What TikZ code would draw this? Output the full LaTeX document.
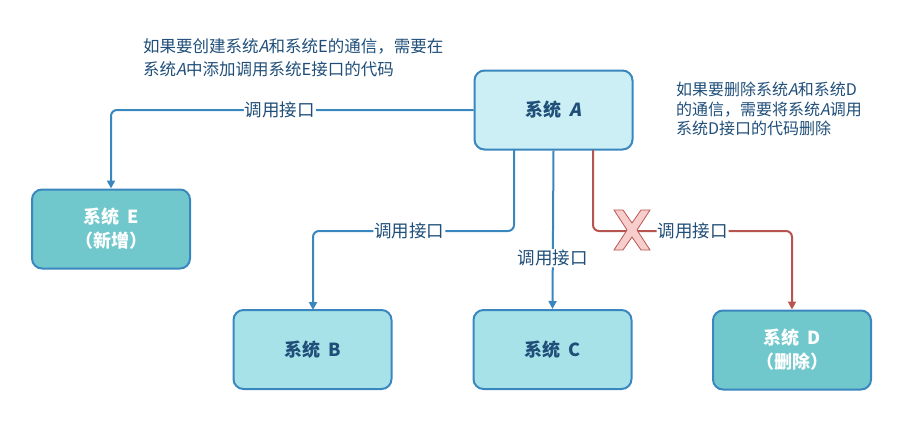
\documentclass[tikz,border=0pt]{standalone}
\usepackage{fontspec}
\setmainfont{Noto Sans CJK SC}
\newfontfamily\slfont{Noto Sans CJK SC}[FakeSlant=0.2]
\usetikzlibrary{arrows.meta}
\definecolor{lineblue}{HTML}{3A86BE}
\definecolor{linered}{HTML}{B85450}
\definecolor{xfill}{HTML}{F8CECC}
\definecolor{txtblue}{HTML}{1F4E79}
\definecolor{fillA}{HTML}{CBEFF4}
\definecolor{fillB}{HTML}{A7E2E9}
\definecolor{fillE}{HTML}{71C8CC}
\newcommand{\sA}{{\slfont A}}
\tikzset{
  sysbox/.style={draw=lineblue, line width=2pt, rounded corners=10pt, minimum width=158pt, minimum height=79pt, align=center, font=\fontsize{18}{24}\selectfont\bfseries, text=txtblue},
  newbox/.style={sysbox, fill=fillE, text=white},
  conn/.style={draw=lineblue, line width=2pt, rounded corners=6pt, -{Triangle[length=8pt,width=8pt]}},
  delconn/.style={conn, draw=linered},
  lbl/.style={fill=white, inner sep=1pt, text=txtblue, font=\fontsize{17.5}{20}\selectfont},
  note/.style={text=txtblue, align=left, anchor=north west, inner sep=0pt},
}
\begin{document}
\begin{tikzpicture}[x=1pt,y=-1pt]
\useasboundingbox (0,0) rectangle (903,421);
\node[sysbox, fill=fillA] (A) at (553.5,110) {系统\ \ {\slfont\bfseries A}};
\node[newbox] (E) at (111,229) {系统\ \ E\\（新增）};
\node[sysbox, fill=fillB] (B) at (312.5,349.5) {系统\ \ B};
\node[sysbox, fill=fillB] (C) at (552.5,349.5) {系统\ \ C};
\node[newbox] (D) at (792,350) {系统\ \ D\\（删除）};

\coordinate (a1) at (514,150);
\coordinate (a3) at (593,150);

\draw[conn] (A.west) -| node[lbl, pos=0.267] {调用接口} (E.north);
\draw[conn] (a1) |- (313,231) node[lbl, pos=0.76] {调用接口} -- (313,310);
\draw[conn] (A.south) -- node[lbl, pos=0.68] {调用接口} (C.north);
\draw[delconn] (a3) |- (792,231) node[lbl, pos=0.75] {调用接口} -- (D.north);

\node (X) at (632,230) {};
\draw[draw=linered, fill=xfill, line width=0.8pt, shift={(632,230)}]
  (-18,-20) -- (-9,-20) -- (0,-7) -- (9,-20) -- (18,-20) -- (5,0) -- (18,20) -- (9,20) -- (0,7) -- (-9,20) -- (-18,20) -- (-5,0) -- cycle;

\node[note, font=\fontsize{16.5}{23}\selectfont] (n1) at (143,38) {如果要创建系统\sA 和系统E的通信，需要在\\系统\sA 中添加调用系统E接口的代码};
\node[note, font=\fontsize{16}{19.5}\selectfont] (n2) at (676,82) {如果要删除系统\sA 和系统D\\的通信，需要将系统\sA 调用\\系统D接口的代码删除};
\end{tikzpicture}
\end{document}
